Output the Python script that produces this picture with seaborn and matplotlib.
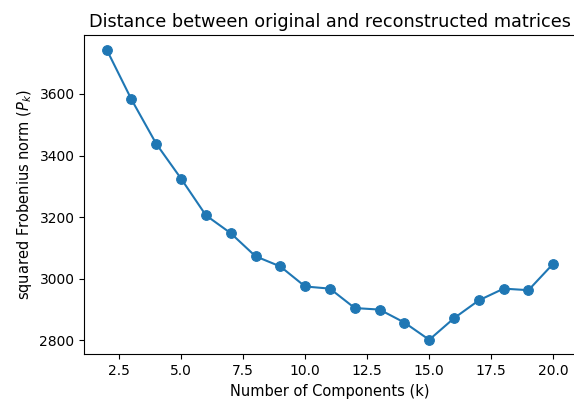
import matplotlib
matplotlib.use("Agg")
import matplotlib.pyplot as plt
import seaborn as sns
import pandas as pd

components = [2, 3, 4, 5, 6, 7, 8, 9, 10, 11, 12, 13, 14, 15, 16, 17, 18, 19, 20]
frobenius = [3744, 3582, 3438, 3325, 3206, 3148, 3073, 3040, 2975, 2968,
             2905, 2900, 2858, 2802, 2872, 2930, 2968, 2963, 3049]

df = pd.DataFrame({"k": components, "P": frobenius})

plt.rcParams["font.family"] = ["DejaVu Sans"]
fig = plt.figure(figsize=(5.74, 4.03), dpi=100)
ax = fig.add_axes([84.3 / 574, (403 - 354.3) / 403, (575.6 - 84.3) / 574, (354.3 - 35) / 403])

sns.lineplot(data=df, x="k", y="P", ax=ax, marker="o", color="#1f77b4",
             markersize=7, markeredgecolor="#1f77b4", linewidth=1.5)

ax.set_title("Distance between original and reconstructed matrices", fontsize=12.7)
ax.set_xlabel("Number of Components (k)", fontsize=10.5)
ax.set_ylabel("squared Frobenius norm ($P_k$)", fontsize=10.5)
ax.set_yticks([2800, 3000, 3200, 3400, 3600])
ax.tick_params(labelsize=10)
ax.margins(x=0.05, y=0.05)

fig.savefig("out.png", dpi=100)
